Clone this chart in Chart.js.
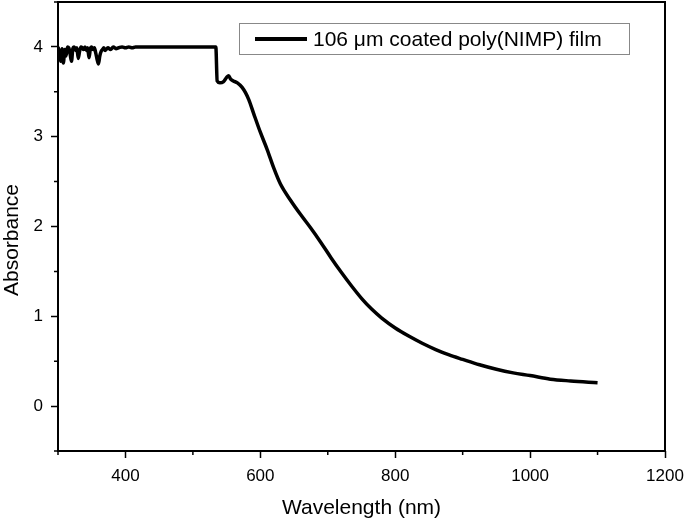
<!DOCTYPE html>
<html>
<head>
<meta charset="utf-8">
<script src="https://cdn.jsdelivr.net/npm/chart.js@4.4.0/dist/chart.umd.min.js"></script>
<style>
  body { margin: 0; background: #fff; }
  #wrap { width: 685px; height: 522px; }
</style>
</head>
<body>
<div id="wrap"><canvas id="absChart" width="685" height="522"></canvas></div>
<script>
// wavelength (nm) and absorbance
const wavelengths = [
    300, 302, 304, 306, 308, 310, 312, 314, 316, 318, 320, 322, 324, 326, 328, 330,
    332, 334, 336, 338, 340, 342, 344, 346, 348, 350, 352, 354, 356, 358, 360, 362,
    364, 366, 368, 370, 374, 378, 382, 386, 390, 395, 400, 405, 410, 415, 420, 430,
    440, 450, 500, 534,
    536, 540, 545, 550, 553, 556, 560, 566, 573, 578, 583, 590, 600, 610, 620, 630,
    645, 660, 675, 690, 705, 720, 735, 750, 765, 780, 800, 820, 840, 860, 880, 900,
    925, 950, 975, 1000, 1030, 1060, 1100
];
const absorbance = [
    4.00, 3.93, 3.84, 3.98, 3.82, 3.97, 3.90, 4.00, 3.99, 3.92, 3.84, 3.98, 4.00, 3.96, 3.99, 3.87,
    3.95, 4.00, 3.99, 3.97, 4.00, 3.96, 3.99, 3.88, 3.98, 4.00, 3.97, 3.99, 3.93, 3.86, 3.81, 3.90,
    3.95, 3.97, 3.99, 3.96, 3.99, 3.97, 4.00, 3.98, 3.99, 4.00, 3.99, 4.00, 3.99, 4.00, 4.00, 4.00,
    4.00, 4.00, 4.00, 4.00,
    3.62, 3.60, 3.61, 3.66, 3.68, 3.64, 3.62, 3.60, 3.55, 3.49, 3.41, 3.26, 3.05, 2.86, 2.65, 2.47,
    2.29, 2.13, 1.98, 1.82, 1.65, 1.49, 1.34, 1.20, 1.08, 0.98, 0.87, 0.78, 0.70, 0.63, 0.57, 0.52,
    0.46, 0.41, 0.37, 0.34, 0.30, 0.28, 0.26
];
const seriesLabel = "106 \u03bcm coated poly(NIMP) film";
const xTitle = "Wavelength (nm)";
const yTitle = "Absorbance";
const xMajorTicks = [400, 600, 800, 1000, 1200];
const yMajorTicks = [0, 1, 2, 3, 4];

const points = wavelengths.map((w, i) => ({x: w, y: absorbance[i]}));

function isMajor(list, v) {
    return list.some(m => Math.abs(m - v) < 1e-6);
}

// frame, minor ticks, y title and the boxed legend
const framePlugin = {
    id: 'frame',
    afterDraw(chart) {
        const ctx = chart.ctx;
        const a = chart.chartArea;
        const xs = chart.scales.x;
        const ys = chart.scales.y;
        ctx.save();
        ctx.strokeStyle = '#000';
        ctx.lineWidth = 2;
        ctx.strokeRect(a.left, a.top, a.right - a.left, a.bottom - a.top);

        // minor ticks
        ctx.lineWidth = 1.5;
        ctx.beginPath();
        xs.ticks.forEach(t => {
            if (isMajor(xMajorTicks, t.value)) return;
            const px = xs.getPixelForValue(t.value);
            ctx.moveTo(px, a.bottom);
            ctx.lineTo(px, a.bottom + 4);
        });
        ys.ticks.forEach(t => {
            if (isMajor(yMajorTicks, t.value)) return;
            const py = ys.getPixelForValue(t.value);
            ctx.moveTo(a.left, py);
            ctx.lineTo(a.left - 4, py);
        });
        ctx.stroke();

        // y axis title, a bit below the middle like the original
        ctx.fillStyle = '#000';
        ctx.font = '21px "Liberation Sans", Arial, sans-serif';
        ctx.textAlign = 'center';
        ctx.textBaseline = 'middle';
        ctx.translate(12, 240);
        ctx.rotate(-Math.PI / 2);
        ctx.fillText(yTitle, 0, 0);
        ctx.setTransform(1, 0, 0, 1, 0, 0);

        // legend
        const lx = 239, ly = 23, lw = 390, lh = 31;
        ctx.strokeStyle = '#888';
        ctx.lineWidth = 1;
        ctx.strokeRect(lx + 0.5, ly + 0.5, lw, lh);
        ctx.strokeStyle = '#000';
        ctx.lineWidth = 4;
        ctx.beginPath();
        ctx.moveTo(255, ly + 16);
        ctx.lineTo(307, ly + 16);
        ctx.stroke();
        ctx.textAlign = 'left';
        ctx.fillText(seriesLabel, 313, ly + 17);
        ctx.restore();
    }
};

const tickFont = {family: '"Liberation Sans", Arial, sans-serif', size: 17};
const titleFont = {family: '"Liberation Sans", Arial, sans-serif', size: 21};

new Chart(document.getElementById('absChart'), {
    type: 'line',
    data: {
        datasets: [{
            label: seriesLabel,
            data: points,
            borderColor: '#000',
            borderWidth: 3.5,
            pointRadius: 0,
            cubicInterpolationMode: 'monotone',
            fill: false
        }]
    },
    options: {
        responsive: false,
        animation: false,
        layout: {padding: {left: 0, right: 20, top: 2, bottom: 0}},
        plugins: {
            legend: {display: false},
            tooltip: {enabled: false}
        },
        scales: {
            x: {
                type: 'linear',
                min: 300,
                max: 1200,
                afterFit: function (scale) {
                    scale.height = 71;
                    scale.paddingLeft = 0;
                    scale.paddingRight = 0;
                },
                ticks: {
                    stepSize: 100,
                    autoSkip: false,
                    color: '#000',
                    font: tickFont,
                    padding: 8,
                    maxRotation: 0,
                    callback: v => (isMajor(xMajorTicks, v) ? v : '')
                },
                grid: {
                    drawOnChartArea: false,
                    tickLength: 7,
                    tickColor: '#000',
                    tickWidth: ctx => (ctx.tick && isMajor(xMajorTicks, ctx.tick.value) ? 1.5 : 0)
                },
                border: {display: false},
                title: {
                    display: true,
                    text: xTitle,
                    color: '#000',
                    font: titleFont,
                    padding: {top: 0, bottom: 1}
                }
            },
            y: {
                type: 'linear',
                min: -0.5,
                max: 4.5,
                afterFit: function (scale) {
                    scale.width = 58;
                    scale.paddingTop = 0;
                    scale.paddingBottom = 0;
                },
                ticks: {
                    stepSize: 0.5,
                    autoSkip: false,
                    color: '#000',
                    font: tickFont,
                    padding: 8,
                    callback: v => (isMajor(yMajorTicks, v) ? v : '')
                },
                grid: {
                    drawOnChartArea: false,
                    tickLength: 7,
                    tickColor: '#000',
                    tickWidth: ctx => (ctx.tick && isMajor(yMajorTicks, ctx.tick.value) ? 1.5 : 0)
                },
                border: {display: false},
                title: {display: false}
            }
        }
    },
    plugins: [framePlugin]
});
</script>
</body>
</html>
